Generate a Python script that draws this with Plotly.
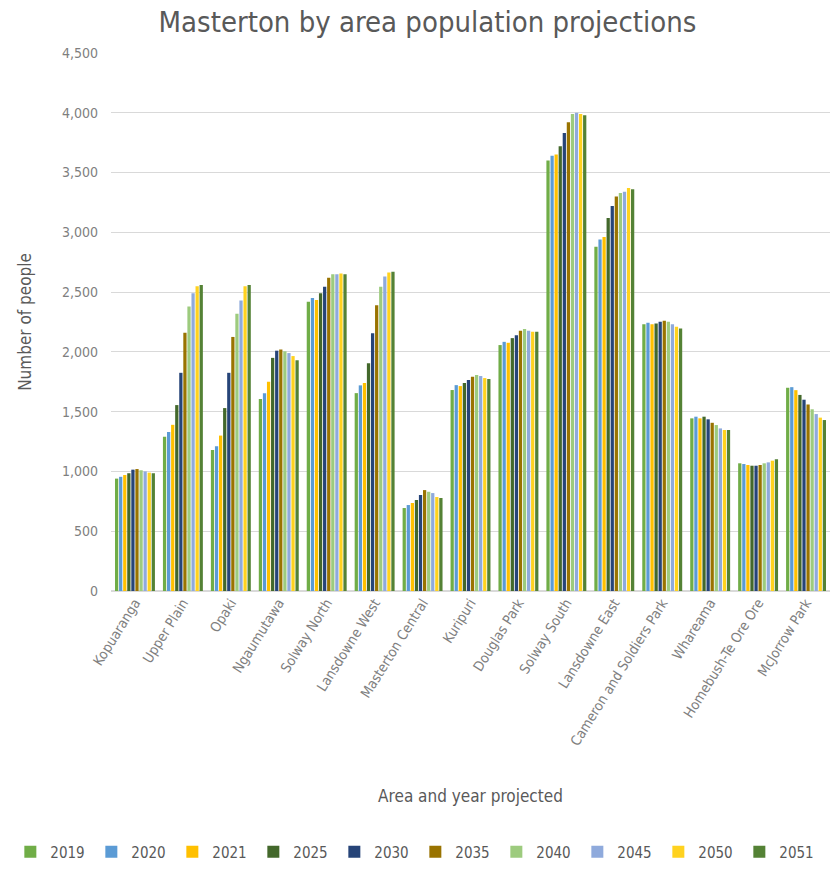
import plotly.graph_objects as go

areas = ["Kopuaranga", "Upper Plain", "Opaki", "Ngaumutawa", "Solway North",
         "Lansdowne West", "Masterton Central", "Kuripuri", "Douglas Park",
         "Solway South", "Lansdowne East", "Cameron and Soldiers Park",
         "Whareama", "Homebush-Te Ore Ore", "McJorrow Park"]

years = ["2019", "2020", "2021", "2025", "2030", "2035", "2040", "2045", "2050", "2051"]

v2019 = [940, 1290, 1180, 1605, 2420, 1655, 694, 1681, 2057, 3600, 2880, 2232, 1444, 1068, 1700]
v2020 = [955, 1330, 1210, 1655, 2450, 1720, 719, 1722, 2084, 3640, 2940, 2243, 1458, 1062, 1705]
v2021 = [970, 1390, 1300, 1750, 2435, 1740, 736, 1714, 2076, 3650, 2960, 2232, 1444, 1054, 1680]
v2025 = [985, 1555, 1530, 1950, 2490, 1905, 761, 1739, 2115, 3720, 3120, 2238, 1458, 1048, 1640]
v2030 = [1015, 1825, 1825, 2010, 2545, 2155, 803, 1764, 2140, 3830, 3220, 2252, 1436, 1048, 1600]
v2035 = [1020, 2160, 2125, 2020, 2620, 2390, 844, 1792, 2176, 3920, 3300, 2260, 1407, 1054, 1560]
v2040 = [1010, 2380, 2320, 2005, 2650, 2545, 830, 1806, 2191, 3990, 3330, 2252, 1388, 1068, 1520]
v2045 = [1000, 2490, 2430, 1990, 2650, 2630, 819, 1798, 2176, 4000, 3340, 2232, 1360, 1076, 1480]
v2050 = [990, 2550, 2550, 1965, 2655, 2665, 786, 1781, 2168, 3990, 3370, 2210, 1346, 1090, 1450]
v2051 = [985, 2560, 2560, 1930, 2650, 2670, 778, 1773, 2168, 3980, 3360, 2196, 1346, 1101, 1430]

series = [v2019, v2020, v2021, v2025, v2030, v2035, v2040, v2045, v2050, v2051]
colors = ["#70AD47", "#5B9BD5", "#FFC000", "#43682B", "#264478",
          "#997300", "#9DCB7E", "#8FAADC", "#FFD21F", "#548235"]

FONT = "Liberation Sans Narrow, DejaVu Sans Condensed, sans-serif"
GREY = "#595959"
LIGHT = "#7F7F7F"

fig = go.Figure()
for yr, vals, col in zip(years, series, colors):
    fig.add_trace(go.Bar(name=yr, x=areas, y=vals, marker_color=col,
                         marker_line_width=0))

fig.update_layout(
    width=830, height=892,
    margin=dict(l=111, r=0, t=53, b=301),
    paper_bgcolor="white", plot_bgcolor="white",
    barmode="group", bargap=0.15, bargroupgap=0.2,
    font=dict(family=FONT, color=GREY, size=14),
    title=dict(text="Masterton by area population projections",
               x=0.515, xanchor="center", y=0.975, yanchor="middle",
               font=dict(family=FONT, size=29, color=GREY)),
    xaxis=dict(tickangle=-58, tickfont=dict(size=14, color=LIGHT),
               title=dict(text="Area and year projected", font=dict(size=17, color=GREY),
                          standoff=42),
               showgrid=False, showline=False, ticks=""),
    yaxis=dict(range=[0, 4500], dtick=500, tickformat=",",
               gridcolor="#D9D9D9", gridwidth=1, zeroline=True, zerolinecolor="#D9D9D9",
               tickfont=dict(size=14, color=LIGHT), ticks="", ticklen=0,
               ticklabelstandoff=12,
               title=dict(text="Number of people", font=dict(size=17, color=GREY),
                          standoff=26)),
    legend=dict(orientation="h", x=-0.14, xanchor="left", y=-0.485, yanchor="middle",
                entrywidth=36, entrywidthmode="pixels",
                font=dict(size=15, color=GREY), itemwidth=30,
                traceorder="normal"),
)

fig.write_html("out.html")
